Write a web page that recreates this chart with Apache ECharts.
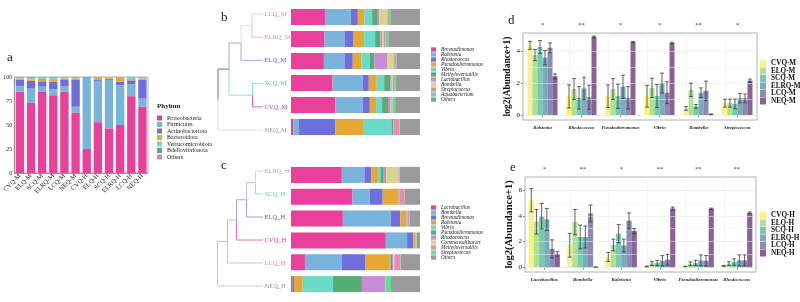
<!DOCTYPE html>
<html><head><meta charset="utf-8">
<script src="https://cdn.jsdelivr.net/npm/echarts@6/dist/echarts.min.js"></script>
<style>html,body{margin:0;padding:0;background:#fff}#c{width:800px;height:302px}</style>
</head><body><div id="c"></div>
<script>
const SERIF = '"Liberation Serif", "DejaVu Serif", serif';
const PAL = ['#E8409B','#79B4DC','#6E6EDC','#E6A733','#6ADBC9','#57AE73','#C98AD8','#D6D68A','#E88AB3','#5EE08E','#9A9A9A'];

// ---------- Panel a ----------
const samplesA = ['CVQ-M','ELQ-M','SCQ-M','ELRQ-M','LCQ-M','NEQ-M','CVQ-H','ELQ-H','SCQ-H','ELRQ-H','LCQ-H','NEQ-H'];
const phyla = ['Proteobacteria','Firmicutes','Actinobacteriota','Bacteroidota','Verrucomicrobiota','Bdellovibrionota','Others'];
const proteobacteria    = [84.5, 73, 85, 81, 85, 63, 25, 53, 46.5, 50, 80, 69];
const firmicutes        = [6.2, 15, 5, 6, 5, 6, 74, 43, 50.5, 41.5, 12.5, 8.5];
const actinobacteriota  = [6.5, 8, 5.5, 8, 7.5, 28.5, 0.6, 1.5, 1, 3.5, 4, 19.5];
const bacteroidota      = [1.3, 1.5, 2.5, 2, 1.2, 1, 0.2, 1.5, 0.8, 4, 1.5, 1.5];
const verrucomicrobiota = [0.8, 1.2, 1, 2, 0.5, 0.5, 0.1, 0.3, 0.5, 0.5, 1, 0.8];
const bdellovibrionota  = [0.4, 1, 0.5, 0.5, 0.4, 0.5, 0.05, 0.3, 0.3, 0.3, 0.5, 0.4];
const othersA           = [0.3, 0.3, 0.5, 0.5, 0.4, 0.5, 0.05, 0.4, 0.4, 0.2, 0.5, 0.3];
const phylaValues = [proteobacteria, firmicutes, actinobacteriota, bacteroidota, verrucomicrobiota, bdellovibrionota, othersA];
const ticksA = [0, 25, 50, 75, 100];

// ---------- Panel b ----------
const rowsB = ['LCQ_M','ELRQ_M','ELQ_M','SCQ_M','CVQ_M','NEQ_M'];
const generaB = ['Brevundimonas','Ralstonia','Rhodococcus','Pseudoalteromonas','Vibrio','Methyloversatilis','Lactobacillus','Bombella','Streptococcus','Aquabacterium','Others'];
const bBrevundimonas     = [26.8, 26, 25.5, 32.2, 34.3, 1.8];
const bRalstonia         = [19.6, 15.5, 16, 23.2, 21.4, 4.4];
const bRhodococcus       = [5.4, 7, 6.4, 4.9, 5.4, 28.1];
const bPseudoalteromonas = [5.2, 8.2, 6.7, 6.2, 4.9, 22.2];
const bVibrio            = [5.9, 8.5, 6.4, 5.7, 4.6, 21.4];
const bMethyloversatilis = [4.4, 4.1, 3.6, 4.9, 4.6, 1.3];
const bLactobacillus     = [1, 1.3, 10.3, 1, 2, 0.3];
const bBombella          = [6.4, 1.5, 4.6, 0.8, 0.5, 0.1];
const bStreptococcus     = [1.3, 1.3, 1, 1, 1, 4.4];
const bAquabacterium     = [1.5, 2, 1.3, 1.3, 2, 0.5];
const bOthers            = [22.5, 24.6, 18.2, 18.8, 19.3, 15.5];
const valuesB = [bBrevundimonas,bRalstonia,bRhodococcus,bPseudoalteromonas,bVibrio,bMethyloversatilis,bLactobacillus,bBombella,bStreptococcus,bAquabacterium,bOthers];
const treeMergesB = [[0,1,0.11],['n0',2,0.22],[3,4,0.105],['n1','n2',0.34],['n3',5,0.45]];

// ---------- Panel c ----------
const rowsC = ['ELRQ_H','SCQ_H','ELQ_H','CVQ_H','LCQ_H','NEQ_H'];
const generaC = ['Lactobacillus','Bombella','Brevundimonas','Ralstonia','Vibrio','Pseudoalteromonas','Rhodococcus','Commensalibacter','Methyloversatilis','Streptococcus','Others'];
const cLactobacillus     = [39.4, 47.7, 40.2, 73.5, 10.8, 0.8];
const cBombella          = [17.5, 13.4, 37.1, 16.5, 28.6, 0.3];
const cBrevundimonas     = [5.4, 10, 7.5, 4.9, 18, 1.3];
const cRalstonia         = [5.2, 12.4, 4.4, 1.5, 18.6, 6.7];
const cVibrio            = [1.8, 0.2, 0.3, 0.2, 1, 23.5];
const cPseudoalteromonas = [2.6, 0.2, 0.3, 0.2, 1.3, 22.4];
const cRhodococcus       = [1.8, 0.5, 0.3, 0.2, 1, 18.3];
const cCommensalibacter  = [9.5, 0.1, 0.1, 0.1, 0.8, 0.1];
const cMethyloversatilis = [1, 3.4, 1.5, 0.3, 4.6, 0.2];
const cStreptococcus     = [0.3, 0.2, 0.2, 0.2, 0.3, 3.9];
const cOthers            = [15.5, 11.9, 8.1, 2.4, 15, 22.5];
const valuesC = [cLactobacillus,cBombella,cBrevundimonas,cRalstonia,cVibrio,cPseudoalteromonas,cRhodococcus,cCommensalibacter,cMethyloversatilis,cStreptococcus,cOthers];
const treeMergesC = [[0,1,0.075],['n0',2,0.165],['n1',3,0.265],['n2',4,0.355],['n3',5,0.455]];

// ---------- Panel d ----------
const catsD = ['Ralstonia','Rhodococcus','Pseudoalteromonas','Vibrio','Bombella','Streptococcus'];
const sigD = ['*','**','*','*','**','*'];
const groupsD = ['CVQ-M','ELQ-M','SCQ-M','ELRQ-M','LCQ-M','NEQ-M'];
const dCVQ  = [4.35, 1.17, 1.18, 1.18, 0.42, 0.75];
const dELQ  = [3.75, 1.63, 1.63, 1.70, 1.58, 0.75];
const dSCQ  = [4.25, 1.08, 1.18, 1.20, 0.55, 0.70];
const dELRQ = [3.58, 1.67, 1.77, 2.00, 1.40, 1.06];
const dLCQ  = [4.20, 1.12, 1.08, 1.40, 1.52, 1.05];
const dNEQ  = [2.42, 4.88, 4.56, 4.50, 0.06, 2.15];
const dCVQsd  = [0.25, 0.72, 0.70, 0.68, 0.12, 0.25];
const dELQsd  = [0.35, 0.65, 0.65, 0.60, 0.42, 0.25];
const dSCQsd  = [0.40, 0.70, 0.75, 0.72, 0.12, 0.30];
const dELRQsd = [0.45, 0.70, 0.72, 0.62, 0.30, 0.30];
const dLCQsd  = [0.30, 0.75, 0.70, 0.68, 0.60, 0.27];
const dNEQsd  = [0.15, 0.05, 0.04, 0.05, 0.01, 0.10];
const meansD = [dCVQ,dELQ,dSCQ,dELRQ,dLCQ,dNEQ];
const sdsD = [dCVQsd,dELQsd,dSCQsd,dELRQsd,dLCQsd,dNEQsd];

// ---------- Panel e ----------
const catsE = ['Lactobacillus','Bombella','Ralstonia','Vibrio','Pseudoalteromonas','Rhodococcus'];
const sigE = ['*','**','*','**','**','**'];
const groupsE = ['CVQ-H','ELQ-H','SCQ-H','ELRQ-H','LCQ-H','NEQ-H'];
const eCVQ  = [5.20, 1.72, 0.82, 0.08, 0.07, 0.12];
const eELQ  = [3.54, 3.51, 1.74, 0.30, 0.28, 0.30];
const eSCQ  = [3.97, 2.36, 2.62, 0.35, 0.35, 0.42];
const eELRQ = [3.72, 2.36, 1.70, 0.52, 0.55, 0.55];
const eLCQ  = [1.44, 4.18, 3.62, 0.60, 0.52, 0.55];
const eNEQ  = [1.05, 0.03, 2.82, 4.56, 4.54, 4.22];
const eCVQsd  = [0.90, 0.92, 0.35, 0.03, 0.02, 0.03];
const eELQsd  = [0.95, 0.97, 0.45, 0.15, 0.15, 0.15];
const eSCQsd  = [0.98, 0.92, 0.70, 0.20, 0.20, 0.25];
const eELRQsd = [0.85, 0.85, 0.50, 0.40, 0.42, 0.42];
const eLCQsd  = [0.70, 0.65, 0.60, 0.42, 0.40, 0.42];
const eNEQsd  = [0.18, 0.01, 0.18, 0.12, 0.05, 0.07];
const meansE = [eCVQ,eELQ,eSCQ,eELRQ,eLCQ,eNEQ];
const sdsE = [eCVQsd,eELQsd,eSCQsd,eELRQsd,eLCQsd,eNEQsd];

const VIR = ['#FDE725','#7AD151','#22A884','#2A788E','#414487','#440154'];

// ---------- styling helpers ----------
const hiddenCat = (data, gridIndex, inverse) => ({type:'category', data, gridIndex, inverse: !!inverse, show:false});
const hiddenVal = (gridIndex, min, max, inverse) => ({type:'value', gridIndex, min, max, inverse: !!inverse, show:false});

function treeSeries(leaves, merges, leafCol, nodeCol, labelCol, idx){
  return {
    type:'custom', xAxisIndex: idx, yAxisIndex: idx, silent:true, clip:false,
    data:[[0,0]], encode:{x:0,y:1},
    renderItem(params, api){
      const pos = {};
      leaves.forEach((l,i)=>{ pos[i] = {h:0, y:i}; });
      const parentOf = {};
      merges.forEach((m,k)=>{
        const a = pos[m[0]], b = pos[m[1]];
        pos['n'+k] = {h:m[2], y:(a.y+b.y)/2};
        parentOf[m[0]] = 'n'+k; parentOf[m[1]] = 'n'+k;
      });
      const ch = [];
      Object.keys(parentOf).forEach(key=>{
        const c = pos[key], p = pos[parentOf[key]];
        const col = key[0]==='n' ? nodeCol[+key.slice(1)] : leafCol[+key];
        const q = api.coord([p.h, p.y]), a = api.coord([p.h, c.y]), b = api.coord([c.h, c.y]);
        ch.push({type:'polyline', shape:{points:[q,a,b]}, style:{stroke:col, lineWidth:1, fill:null}});
      });
      leaves.forEach((l,i)=>{
        const pt = api.coord([0,i]);
        ch.push({type:'text', x:pt[0]+1.5, y:pt[1], style:{text:l, fill:labelCol[i], fontSize:6.5, fontFamily:SERIF, align:'left', verticalAlign:'middle'}});
      });
      return {type:'group', children:ch};
    }
  };
}

function errSeries(gi, means, sds, xIdx, yIdx, bw){
  return {
    type:'custom', name:'err'+xIdx+'_'+gi, xAxisIndex:xIdx, yAxisIndex:yIdx, z:5, silent:true, clip:false,
    data: means.map((m,i)=>[i, m, sds[i]]), encode:{x:0,y:1},
    renderItem(params, api){
      const cat = api.value(0), m = api.value(1), s = api.value(2);
      const top = api.coord([cat, m+s]), bot = api.coord([cat, m-s]);
      const x = top[0] + (gi-2.5)*bw, cw = bw*0.38;
      const st = {stroke:'#3a3a3a', lineWidth:0.8};
      return {type:'group', children:[
        {type:'line', shape:{x1:x,y1:top[1],x2:x,y2:bot[1]}, style:st},
        {type:'line', shape:{x1:x-cw,y1:top[1],x2:x+cw,y2:top[1]}, style:st},
        {type:'line', shape:{x1:x-cw,y1:bot[1],x2:x+cw,y2:bot[1]}, style:st}
      ]};
    }
  };
}

function gridLines(cats, majors, minors){
  return {
    silent:true, symbol:'none', label:{show:false}, animation:false,
    data: [
      ...majors.map(v=>({yAxis:v, lineStyle:{color:'#e6e6e6', width:0.6, type:'solid'}})),
      ...minors.map(v=>({yAxis:v, lineStyle:{color:'#f3f3f3', width:0.5, type:'solid'}})),
      ...cats.map(c=>({xAxis:c, lineStyle:{color:'#ececec', width:0.6, type:'solid'}}))
    ]
  };
}

const series = [];
// a
phyla.forEach((p,k)=>series.push({type:'bar', name:p, stack:'a', xAxisIndex:0, yAxisIndex:0, data:phylaValues[k], barCategoryGap:'25%', itemStyle:{color:PAL[k]}}));
// b
generaB.forEach((g,k)=>series.push({type:'bar', name:'b:'+g, stack:'b', xAxisIndex:1, yAxisIndex:1, data:valuesB[k], barWidth:16, itemStyle:{color:PAL[k]}}));
// c
generaC.forEach((g,k)=>series.push({type:'bar', name:'c:'+g, stack:'c', xAxisIndex:2, yAxisIndex:2, data:valuesC[k], barWidth:16, itemStyle:{color:PAL[k]}}));
// trees
series.push(treeSeries(rowsB, treeMergesB,
  ['#F2C6E0','#E6B8EC','#A6A6F2','#84E6D2','#E866AE','#DDDDDD'],
  ['#F4D0E6','#A6A6F2','#84E6D2','#777777'],
  ['#DD77CC','#CC88DD','#5555DD','#33CCAA','#E8308F','#999999'], 3));
series.push(treeSeries(rowsC, treeMergesC,
  ['#E8C6F0','#8EE8D8','#A0A0EC','#EC72B4','#F2B2D4','#CCCCCC'],
  ['#DCB8F0','#ABA6F0','#F0A6CC','#F2A8D0'],
  ['#CC99DD','#44CCAA','#5555CC','#E8308F','#E87AB8','#999999'], 4));
// d
groupsD.forEach((g,k)=>{
  const s = {type:'bar', name:g, xAxisIndex:5, yAxisIndex:5, data:meansD[k], barWidth:5, barGap:'0%', itemStyle:{color:VIR[k], opacity:0.62}};
  if(k===0) s.markLine = gridLines(catsD, [0,2,4], [1,3,5]);
  series.push(s);
});
groupsD.forEach((g,k)=>series.push(errSeries(k, meansD[k], sdsD[k], 5, 5, 5)));
// e
groupsE.forEach((g,k)=>{
  const s = {type:'bar', name:g, xAxisIndex:7, yAxisIndex:6, data:meansE[k], barWidth:5.2, barGap:'0%', itemStyle:{color:VIR[k], opacity:0.62}};
  if(k===0) s.markLine = gridLines(catsE, [0,2,4,6], [1,3,5]);
  series.push(s);
});
groupsE.forEach((g,k)=>series.push(errSeries(k, meansE[k], sdsE[k], 7, 6, 5.2)));

const serifTxt = (size, extra) => Object.assign({fontFamily:SERIF, fontSize:size, color:'#222'}, extra||{});

const option = {
  animation:false,
  backgroundColor:'#fff',
  title:[
    {text:'a', left:2, top:46, textStyle:serifTxt(13,{fontWeight:'normal'})},
    {text:'b', left:216, top:6, textStyle:serifTxt(13,{fontWeight:'normal'})},
    {text:'c', left:216, top:154, textStyle:serifTxt(13,{fontWeight:'normal'})},
    {text:'d', left:503, top:9, textStyle:serifTxt(13,{fontWeight:'normal'})},
    {text:'e', left:505, top:156, textStyle:serifTxt(13,{fontWeight:'normal'})},
    {text:'Phylum', left:152, top:98, textStyle:serifTxt(7,{fontWeight:'bold'})}
  ],
  grid:[
    {left:13, top:77, width:135, height:96, show:true, borderColor:'#999', borderWidth:0.8, backgroundColor:'transparent'},
    {left:291, top:6, width:129, height:132},
    {left:291, top:164, width:129, height:131},
    {left:217, top:2.4, width:46, height:139.2},
    {left:217, top:159.5, width:46, height:138},
    {left:523, top:33, width:234, height:87, show:true, borderColor:'#a0a0a0', borderWidth:0.8},
    {left:525, top:177, width:231, height:95, show:true, borderColor:'#a0a0a0', borderWidth:0.8}
  ],
  xAxis:[
    {type:'category', gridIndex:0, data:samplesA, axisLine:{lineStyle:{color:'#888', width:0.8}}, axisTick:{show:false},
     axisLabel:{rotate:45, margin:2, interval:0, fontFamily:SERIF, fontSize:6.5, color:'#222'}},
    hiddenVal(1,0,100),
    hiddenVal(2,0,100),
    hiddenVal(3,0,0.46,true),
    hiddenVal(4,0,0.46,true),
    {type:'category', gridIndex:5, data:catsD, axisLine:{show:false}, axisTick:{show:true, alignWithLabel:true, length:2, lineStyle:{color:'#888'}},
     splitLine:{show:false}, axisLabel:{interval:0, margin:5, fontFamily:SERIF, fontSize:4.7, fontStyle:'italic', fontWeight:'bold', color:'#222'}},
    {type:'category', gridIndex:5, position:'top', data:sigD, axisLine:{show:false}, axisTick:{show:false}, splitLine:{show:false},
     axisLabel:{interval:0, margin:4, fontFamily:SERIF, fontSize:6.5, color:'#333'}},
    {type:'category', gridIndex:6, data:catsE, axisLine:{show:false}, axisTick:{show:true, alignWithLabel:true, length:2, lineStyle:{color:'#888'}},
     splitLine:{show:false}, axisLabel:{interval:0, margin:5, fontFamily:SERIF, fontSize:4.9, fontStyle:'italic', fontWeight:'bold', color:'#222'}},
    {type:'category', gridIndex:6, position:'top', data:sigE, axisLine:{show:false}, axisTick:{show:false}, splitLine:{show:false},
     axisLabel:{interval:0, margin:4, fontFamily:SERIF, fontSize:6.5, color:'#333'}}
  ],
  yAxis:[
    {type:'value', gridIndex:0, min:0, max:100, interval:25, axisLine:{show:true, lineStyle:{color:'#888', width:0.8}}, axisTick:{show:false}, splitLine:{show:false},
     axisLabel:{margin:2, fontFamily:SERIF, fontSize:6, color:'#222'}},
    hiddenCat(rowsB,1,true),
    hiddenCat(rowsC,2,true),
    hiddenVal(3,-0.5,5.5,true),
    hiddenVal(4,-0.5,5.5,true),
    {type:'value', gridIndex:5, min:-0.3, max:5.12, axisLine:{show:false}, splitLine:{show:false},
     axisTick:{show:true, length:2, lineStyle:{color:'#888'}, customValues:[0,2,4]},
     axisLabel:{margin:3, fontFamily:SERIF, fontSize:7, color:'#222', customValues:[0,2,4]},
     name:'log2(Abundance+1)', nameLocation:'middle', nameGap:8, nameRotate:90,
     nameTextStyle:{fontFamily:SERIF, fontSize:9.5, fontWeight:'bold', color:'#111'}},
    {type:'value', gridIndex:6, min:-0.35, max:7.0, axisLine:{show:false}, splitLine:{show:false},
     axisTick:{show:true, length:2, lineStyle:{color:'#888'}, customValues:[0,2,4,6]},
     axisLabel:{margin:3, fontFamily:SERIF, fontSize:7, color:'#222', customValues:[0,2,4,6]},
     name:'log2(Abundance+1)', nameLocation:'middle', nameGap:9, nameRotate:90,
     nameTextStyle:{fontFamily:SERIF, fontSize:10.5, fontWeight:'bold', color:'#111'}}
  ],
  legend:[
    {data:phyla, orient:'vertical', left:152, top:110, itemWidth:5, itemHeight:5, itemGap:0.5, icon:'rect',
     textStyle:{fontFamily:SERIF, fontSize:6, color:'#222'}},
    {data:generaB.map(g=>'b:'+g), orient:'vertical', left:426, top:42, itemWidth:5, itemHeight:4.3, itemGap:0, icon:'rect',
     formatter:n=>n.replace(/^[bc]:/,''), textStyle:{fontFamily:SERIF, fontSize:5.3, fontStyle:'italic', color:'#222'}},
    {data:generaC.map(g=>'c:'+g), orient:'vertical', left:426, top:200, itemWidth:5, itemHeight:4.3, itemGap:0, icon:'rect',
     formatter:n=>n.replace(/^[bc]:/,''), textStyle:{fontFamily:SERIF, fontSize:5.3, fontStyle:'italic', color:'#222'}},
    {data:groupsD, orient:'vertical', left:755, top:55, itemWidth:6, itemHeight:7, itemGap:0.5, icon:'rect',
     textStyle:{fontFamily:SERIF, fontSize:7.2, fontWeight:'bold', color:'#111'}},
    {data:groupsE, orient:'vertical', left:755, top:207, itemWidth:6, itemHeight:7, itemGap:0.5, icon:'rect',
     textStyle:{fontFamily:SERIF, fontSize:7.2, fontWeight:'bold', color:'#111'}}
  ],
  series
};
const chart = echarts.init(document.getElementById('c'), null, {renderer:'canvas'});
chart.setOption(option);
</script></body></html>
